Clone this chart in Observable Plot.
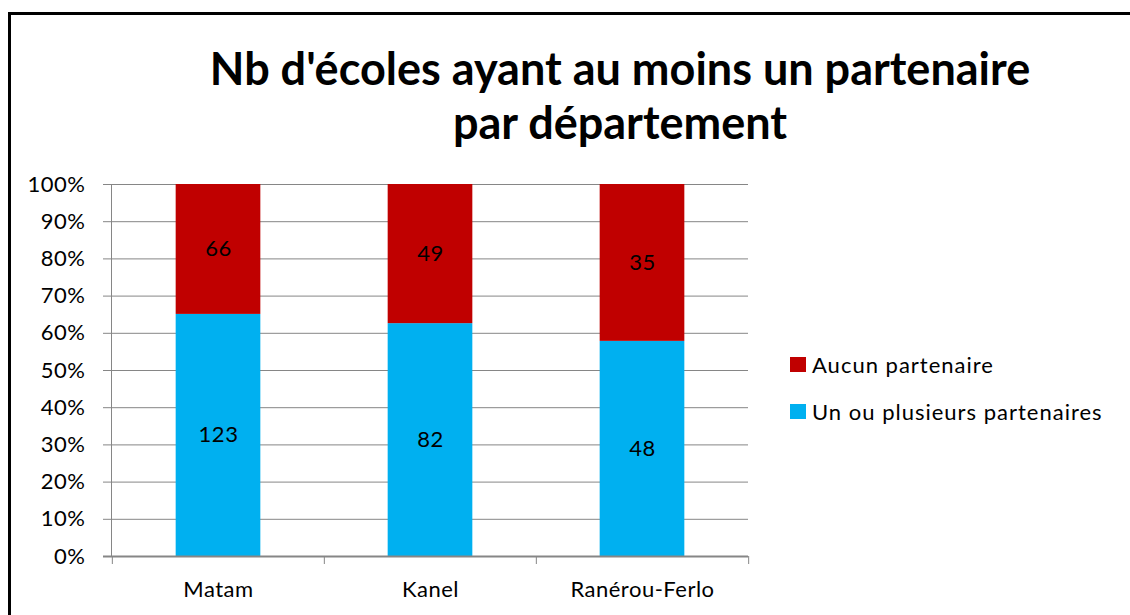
<!DOCTYPE html>
<html>
<head>
<meta charset="utf-8">
<script src="https://cdn.jsdelivr.net/npm/d3@7"></script>
<script src="https://cdn.jsdelivr.net/npm/@observablehq/plot@0.6"></script>
<style>
  html, body { margin: 0; padding: 0; background: #fff; }
  #wrap { position: relative; width: 1130px; height: 615px; overflow: hidden; font-family: Lato, "Open Sans", sans-serif; }
  #border { position: absolute; left: 8px; top: 12px; width: 2000px; height: 2000px; border-left: 3px solid #000; border-top: 3px solid #000; }
  #title { position: absolute; left: 0; width: 1240px; top: 41px; text-align: center; font-weight: bold; font-size: 45px; line-height: 54px; color: #000; }
  #chart { position: absolute; left: 0; top: 0; }
  #legend { position: absolute; left: 790px; top: 341px; font-size: 22px; letter-spacing: 1px; color: #000; }
  .item { display: flex; align-items: center; height: 47px; }
  .sw { width: 16px; height: 15px; margin-right: 6px; }
</style>
</head>
<body>
<div id="wrap">
  <div id="border"></div>
  <div id="title">Nb d'écoles ayant au moins un partenaire<br>par département</div>
  <div id="chart"></div>
  <div id="legend"></div>
</div>
<script>
const categories = ["Matam", "Kanel", "Ranérou-Ferlo"];
const unOuPlusieurs = [123, 82, 48];
const aucun = [66, 49, 35];
const seriesNames = ["Un ou plusieurs partenaires", "Aucun partenaire"];
const seriesColors = ["#00B0F0", "#C00000"];
const yTicks = [0, 0.1, 0.2, 0.3, 0.4, 0.5, 0.6, 0.7, 0.8, 0.9, 1];

const rows = [];
categories.forEach((c, i) => {
  rows.push({cat: c, series: seriesNames[0], count: unOuPlusieurs[i]});
  rows.push({cat: c, series: seriesNames[1], count: aucun[i]});
});

const W = 1130, H = 615;
const mL = 111, mR = 382, mT = 184, mB = 59;
const bw = (W - mL - mR) / categories.length;
const barW = 85;
const inset = (bw - barW) / 2;
const grey = "#868686";

const stackOpts = {x: "cat", y: "count", fill: "series", offset: "normalize", order: seriesNames};

const chart = Plot.plot({
  width: W, height: H,
  marginLeft: mL, marginRight: mR, marginTop: mT, marginBottom: mB,
  style: {fontFamily: "Lato, 'Open Sans', sans-serif", fontSize: "22px", letterSpacing: "0.5px", color: "#000", background: "transparent"},
  x: {domain: categories, padding: 0, axis: null, label: null},
  y: {domain: [0, 1], axis: null, label: null},
  color: {domain: seriesNames, range: seriesColors},
  marks: [
    Plot.ruleY(yTicks, {y: d => d, stroke: grey, strokeWidth: 1, insetLeft: -8}),
    Plot.frame({anchor: "left", stroke: grey}),
    Plot.barY(rows, Plot.stackY({...stackOpts, insetLeft: inset, insetRight: inset})),
    Plot.ruleY([0], {stroke: grey, strokeWidth: 2, insetLeft: -8}),
    Plot.ruleX(categories, {x: d => d, dx: -bw / 2, y1: 0, y2: 0, insetBottom: -8, stroke: grey}),
    Plot.ruleX([categories[categories.length - 1]], {x: d => d, dx: bw / 2, y1: 0, y2: 0, insetBottom: -8, stroke: grey}),
    Plot.text(rows, Plot.stackY({x: "cat", y: "count", z: "series", text: "count", offset: "normalize", order: seriesNames, fill: "#000", fontSize: 22})),
    Plot.axisY(yTicks, {tickSize: 0, tickPadding: 26, tickFormat: d3.format(".0%"), fontSize: 22, label: null}),
    Plot.axisX({tickSize: 0, tickPadding: 25, fontSize: 22, label: null})
  ]
});
document.getElementById("chart").appendChild(chart);

const legend = document.getElementById("legend");
[1, 0].forEach(i => {
  const item = document.createElement("div");
  item.className = "item";
  const sw = document.createElement("div");
  sw.className = "sw";
  sw.style.background = seriesColors[i];
  const lab = document.createElement("span");
  lab.textContent = seriesNames[i];
  item.appendChild(sw);
  item.appendChild(lab);
  legend.appendChild(item);
});
</script>
</body>
</html>
